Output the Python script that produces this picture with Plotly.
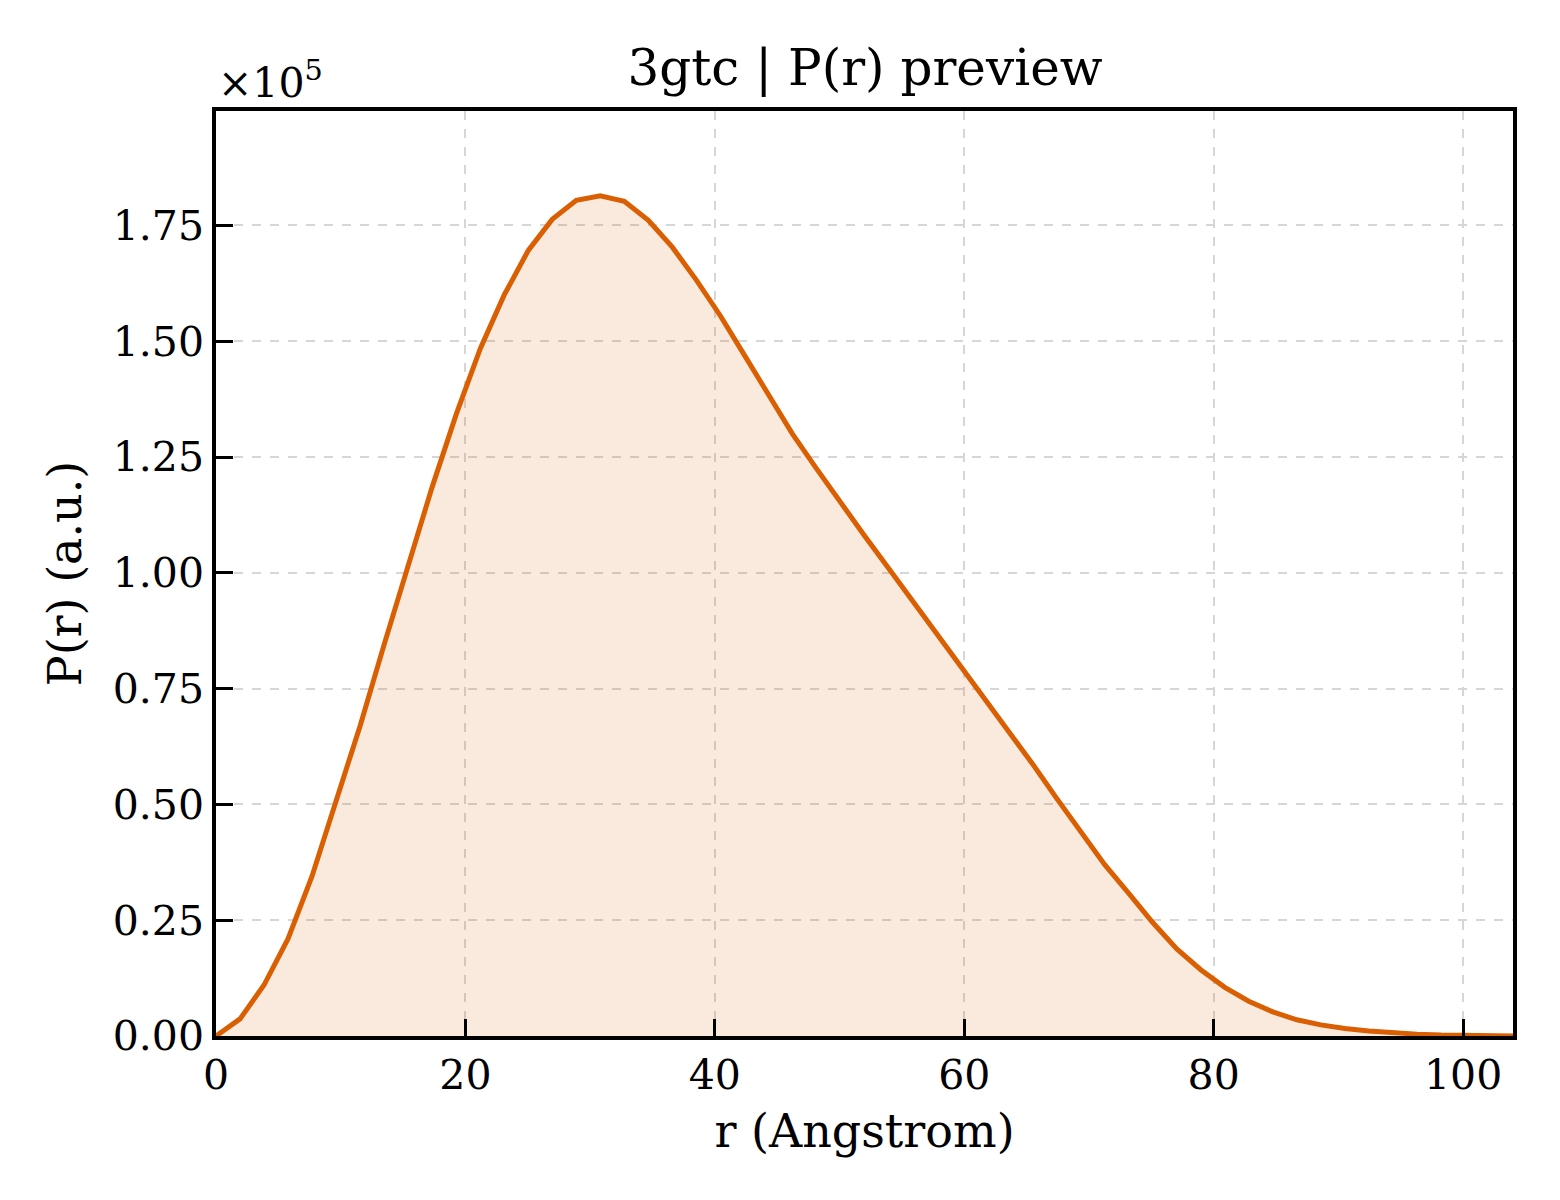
import plotly.graph_objects as go

# P(r) preview for 3gtc
r_angstrom = [0.00, 1.93, 3.85, 5.78, 7.70, 9.63, 11.56, 13.48, 15.41, 17.33,
              19.26, 21.19, 23.11, 25.04, 26.96, 28.89, 30.81, 32.74, 34.67, 36.59,
              38.52, 40.44, 42.37, 44.30, 46.22, 48.15, 50.07, 52.00, 53.93, 55.85,
              57.78, 59.70, 61.63, 63.56, 65.48, 67.41, 69.33, 71.26, 73.19, 75.11,
              77.04, 78.96, 80.89, 82.81, 84.74, 86.67, 88.59, 90.52, 92.44, 94.37,
              96.30, 98.22, 100.15, 102.07, 104.00]

p_r = [0, 3700, 11000, 21000, 34500, 50500, 67000, 84500, 102000, 118500,
       134200, 148400, 160000, 169600, 176300, 180400, 181400, 180200, 176100, 170300,
       163200, 155500, 147000, 138500, 130000, 122500, 115200, 108000, 101000, 94000,
       87200, 80000, 73000, 66000, 58700, 51300, 44000, 37000, 30800, 24500,
       18800, 14300, 10500, 7500, 5200, 3500, 2400, 1600, 1100, 700,
       400, 200, 100, 50, 0]

y_tickvals = [0, 25000, 50000, 75000, 100000, 125000, 150000, 175000]
y_ticktext = ["0.00", "0.25", "0.50", "0.75", "1.00", "1.25", "1.50", "1.75"]
x_tickvals = [0, 20, 40, 60, 80, 100]

line_color = "#d95f02"
font_family = "DejaVu Serif"

fig = go.Figure()
fig.add_trace(go.Scatter(
    x=r_angstrom, y=p_r, mode="lines",
    line=dict(color=line_color, width=5),
    fill="tozeroy", fillcolor="rgba(217,95,2,0.13)",
    showlegend=False,
))

axis_common = dict(
    showline=True, linecolor="black", linewidth=3.5, mirror=True,
    ticks="inside", ticklen=17, tickwidth=3, tickcolor="black",
    showgrid=True, gridcolor="#d6d6d6", gridwidth=1.5, griddash="dash",
    zeroline=False,
    tickfont=dict(family=font_family, size=41, color="black"),
)

# the page adds a few px of body margin, so margins are pulled in a little
fig.update_layout(
    width=1560, height=1200,
    paper_bgcolor="white", plot_bgcolor="white",
    margin=dict(l=208, r=55, t=103, b=172),
    font=dict(family=font_family, color="black"),
    title=dict(
        text="3gtc | P(r) preview",
        font=dict(family=font_family, size=50, color="black"),
        x=(857 / 1560), xanchor="center", xref="container",
        y=1 - 59 / 1200, yanchor="middle", yref="container",
    ),
    xaxis=dict(
        range=[0, 104], tickvals=x_tickvals,
        title=dict(text="r (Angstrom)", font=dict(family=font_family, size=46), standoff=18),
        **axis_common,
    ),
    yaxis=dict(
        range=[0, 199700], tickvals=y_tickvals, ticktext=y_ticktext,
        title=dict(text="P(r) (a.u.)", font=dict(family=font_family, size=46), standoff=18),
        **axis_common,
    ),
)

fig.add_annotation(
    text="×10<sup>5</sup>", xref="paper", yref="paper", x=0, y=1,
    xanchor="left", yanchor="bottom", yshift=2, showarrow=False,
    font=dict(family=font_family, size=41, color="black"),
)

fig.write_html("out.html")
